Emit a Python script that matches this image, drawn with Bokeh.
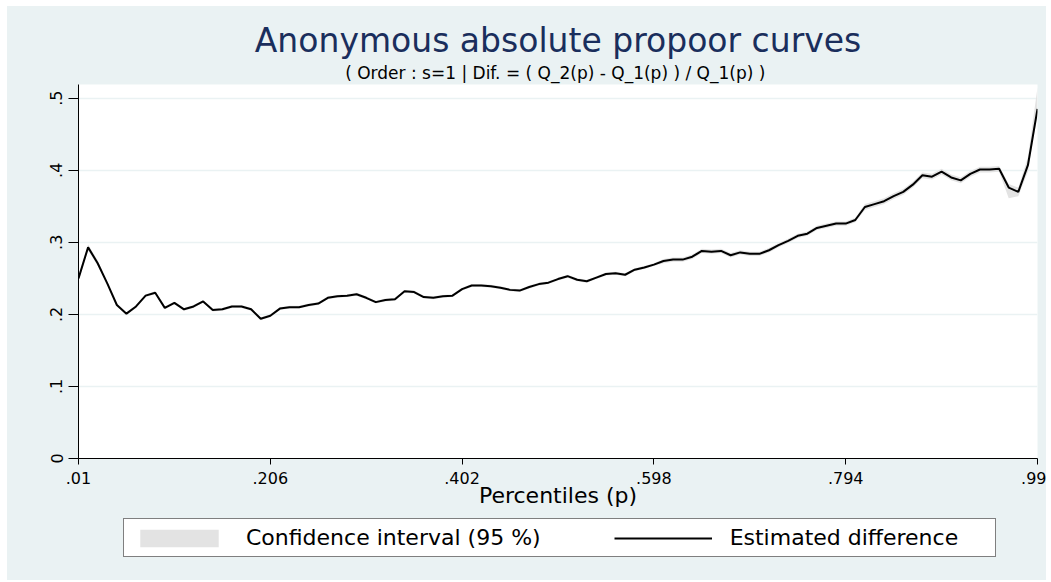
import numpy as np
from bokeh.plotting import figure
from bokeh.layouts import column
from bokeh.models import (Range1d, FixedTicker, CustomJSTickFormatter, Title,
                          Legend, LegendItem, ColumnDataSource)
from bokeh.embed import file_html
from bokeh.resources import INLINE

# ---------------- data ----------------
percentiles = np.linspace(0.01, 0.99, 101)

estimated_difference = [
    0.250, 0.293, 0.271, 0.243, 0.213, 0.201, 0.211, 0.226, 0.230, 0.209,
    0.216, 0.207, 0.211, 0.218, 0.206, 0.207, 0.211, 0.211, 0.207, 0.194,
    0.198, 0.208, 0.210, 0.210, 0.213, 0.215, 0.223, 0.225, 0.226, 0.228,
    0.223, 0.217, 0.220, 0.221, 0.232, 0.231, 0.224, 0.223, 0.225, 0.226,
    0.235, 0.240, 0.240, 0.239, 0.237, 0.234, 0.233, 0.238, 0.242, 0.244,
    0.249, 0.253, 0.248, 0.246, 0.251, 0.256, 0.257, 0.255, 0.262, 0.265,
    0.269, 0.274, 0.276, 0.276, 0.280, 0.288, 0.287, 0.288, 0.282, 0.286,
    0.284, 0.284, 0.289, 0.296, 0.302, 0.309, 0.312, 0.320, 0.323, 0.326,
    0.326, 0.331, 0.349, 0.353, 0.357, 0.364, 0.370, 0.380, 0.393, 0.391,
    0.398, 0.390, 0.386, 0.395, 0.401, 0.401, 0.402, 0.376, 0.370, 0.407,
    0.485,
]

ci_lower = [
    0.246, 0.289, 0.267, 0.241, 0.211, 0.199, 0.209, 0.224, 0.228, 0.207,
    0.214, 0.205, 0.209, 0.216, 0.204, 0.205, 0.209, 0.209, 0.205, 0.192,
    0.196, 0.206, 0.208, 0.208, 0.211, 0.213, 0.221, 0.223, 0.224, 0.226,
    0.221, 0.215, 0.218, 0.219, 0.230, 0.229, 0.222, 0.221, 0.223, 0.224,
    0.233, 0.238, 0.238, 0.237, 0.235, 0.232, 0.231, 0.236, 0.240, 0.242,
    0.247, 0.251, 0.246, 0.244, 0.249, 0.254, 0.255, 0.253, 0.260, 0.263,
    0.267, 0.271, 0.273, 0.273, 0.277, 0.285, 0.284, 0.285, 0.279, 0.283,
    0.281, 0.281, 0.286, 0.293, 0.299, 0.306, 0.309, 0.317, 0.320, 0.323,
    0.323, 0.328, 0.345, 0.349, 0.353, 0.360, 0.366, 0.376, 0.389, 0.387,
    0.394, 0.386, 0.382, 0.391, 0.397, 0.397, 0.398, 0.361, 0.364, 0.398,
    0.478,
]

ci_upper = [
    0.254, 0.297, 0.275, 0.245, 0.215, 0.203, 0.213, 0.228, 0.232, 0.211,
    0.218, 0.209, 0.213, 0.220, 0.208, 0.209, 0.213, 0.213, 0.209, 0.196,
    0.200, 0.210, 0.212, 0.212, 0.215, 0.217, 0.225, 0.227, 0.228, 0.230,
    0.225, 0.219, 0.222, 0.223, 0.234, 0.233, 0.226, 0.225, 0.227, 0.228,
    0.237, 0.242, 0.242, 0.241, 0.239, 0.236, 0.235, 0.240, 0.244, 0.246,
    0.251, 0.255, 0.250, 0.248, 0.253, 0.258, 0.259, 0.257, 0.264, 0.267,
    0.271, 0.277, 0.279, 0.279, 0.283, 0.291, 0.290, 0.291, 0.285, 0.289,
    0.287, 0.287, 0.292, 0.299, 0.305, 0.312, 0.315, 0.323, 0.326, 0.329,
    0.329, 0.334, 0.353, 0.357, 0.361, 0.368, 0.374, 0.384, 0.397, 0.395,
    0.402, 0.394, 0.390, 0.399, 0.405, 0.405, 0.406, 0.381, 0.376, 0.418,
    0.515,
]

x_ticks = [0.01, 0.206, 0.402, 0.598, 0.794, 0.99]
y_ticks = [0, 0.1, 0.2, 0.3, 0.4, 0.5]

title_text = "Anonymous absolute propoor curves"
subtitle_text = "(  Order : s=1 | Dif. = ( Q_2(p) - Q_1(p) ) / Q_1(p) )"
x_label = "Percentiles (p)"
legend_labels = ["Confidence interval (95 %)", "Estimated difference"]

# ---------------- styling ----------------
BG = "#eaf2f3"
TITLE_COLOR = "#1a2e5c"
CI_COLOR = "#e3e3e3"
FONT = "DejaVu Sans"
LEFT, RIGHT = 71, 9

src = ColumnDataSource(dict(p=percentiles, d=estimated_difference,
                            lo=ci_lower, hi=ci_upper))

# ---------------- main plot ----------------
p = figure(width=1039, height=510,
           x_range=Range1d(0.01, 0.99), y_range=Range1d(0, 0.519),
           output_backend="svg", toolbar_location=None,
           min_border_left=LEFT, min_border_right=RIGHT,
           min_border_top=78, min_border_bottom=58)

p.background_fill_color = "white"
p.border_fill_color = BG
p.outline_line_color = None

band = p.varea(x="p", y1="lo", y2="hi", source=src,
               fill_color=CI_COLOR, fill_alpha=1.0)
line = p.line(x="p", y="d", source=src, line_color="black", line_width=2)

fmt = CustomJSTickFormatter(code="""
    if (Math.abs(tick) < 1e-9) { return "0"; }
    var s = String(+tick.toFixed(3));
    return s.replace(/^0\\./, ".");
""")

xa = p.xaxis[0]
xa.ticker = FixedTicker(ticks=x_ticks)
xa.formatter = fmt
xa.axis_label = x_label
xa.axis_label_text_font = FONT
xa.axis_label_text_font_size = "22px"
xa.axis_label_text_font_style = "normal"
xa.axis_label_text_color = "black"
xa.axis_label_standoff = -4
xa.major_label_text_font = FONT
xa.major_label_text_font_size = "16px"
xa.major_label_text_color = "black"
xa.major_label_standoff = 7
xa.major_tick_out = 6
xa.major_tick_in = 0
xa.minor_tick_out = 0
xa.minor_tick_in = 0
xa.axis_line_color = "black"
xa.major_tick_line_color = "black"

ya = p.yaxis[0]
ya.ticker = FixedTicker(ticks=y_ticks)
ya.formatter = fmt
ya.major_label_orientation = "vertical"
ya.major_label_text_font = FONT
ya.major_label_text_font_size = "16px"
ya.major_label_text_color = "black"
ya.major_label_standoff = 6
ya.major_tick_out = 10
ya.major_tick_in = 0
ya.minor_tick_out = 0
ya.minor_tick_in = 0
ya.axis_line_color = "black"
ya.major_tick_line_color = "black"

p.xgrid.grid_line_color = None
p.ygrid.grid_line_color = BG
p.ygrid.grid_line_width = 1.5
p.ygrid.ticker = FixedTicker(ticks=y_ticks)

# main title (outer) and subtitle (nearest the frame)
p.title.text = title_text
p.title.align = "center"
p.title.text_font = FONT
p.title.text_font_size = "33px"
p.title.text_font_style = "normal"
p.title.text_color = TITLE_COLOR
p.title.standoff = 0
p.add_layout(Title(text=subtitle_text, align="center", text_font=FONT,
                   text_font_size="17px", text_font_style="normal",
                   text_color="black", standoff=3), "above")

# ---------------- legend strip (same side borders as the plot) ----------------
lg = figure(width=1039, height=64,
            x_range=Range1d(0, 1), y_range=Range1d(0, 1),
            output_backend="svg", toolbar_location=None,
            x_axis_location=None, y_axis_location=None,
            min_border_left=LEFT, min_border_right=RIGHT,
            min_border_top=0, min_border_bottom=0)
lg.background_fill_color = BG
lg.border_fill_color = BG
lg.outline_line_color = None
lg.grid.visible = False

# legend proxies: a single missing point each, so nothing is drawn in the strip
proxy_src = ColumnDataSource(dict(x=[np.nan], y=[np.nan]))
proxy_band = lg.quad(left="x", right="x", top="y", bottom="y", source=proxy_src,
                     fill_color=CI_COLOR, fill_alpha=1.0, line_color=None)
proxy_line = lg.line(x="x", y="y", source=proxy_src,
                     line_color="black", line_width=2)

legend = Legend(items=[LegendItem(label=legend_labels[0], renderers=[proxy_band]),
                       LegendItem(label=legend_labels[1], renderers=[proxy_line])],
                location=(45, 23), orientation="horizontal",
                glyph_width=98, glyph_height=22, label_standoff=18,
                spacing=73, padding=6, margin=0, label_width=259,
                label_text_font=FONT, label_text_font_size="22px",
                label_text_color="black",
                border_line_color="black", border_line_width=1,
                background_fill_color="white", background_fill_alpha=1.0)
lg.add_layout(legend, "center")

layout = column(p, lg, spacing=0)
layout.margin = (6, 0, 0, 7)
layout.styles = {"background-color": BG}

open("out.html", "w").write(file_html(layout, INLINE))
